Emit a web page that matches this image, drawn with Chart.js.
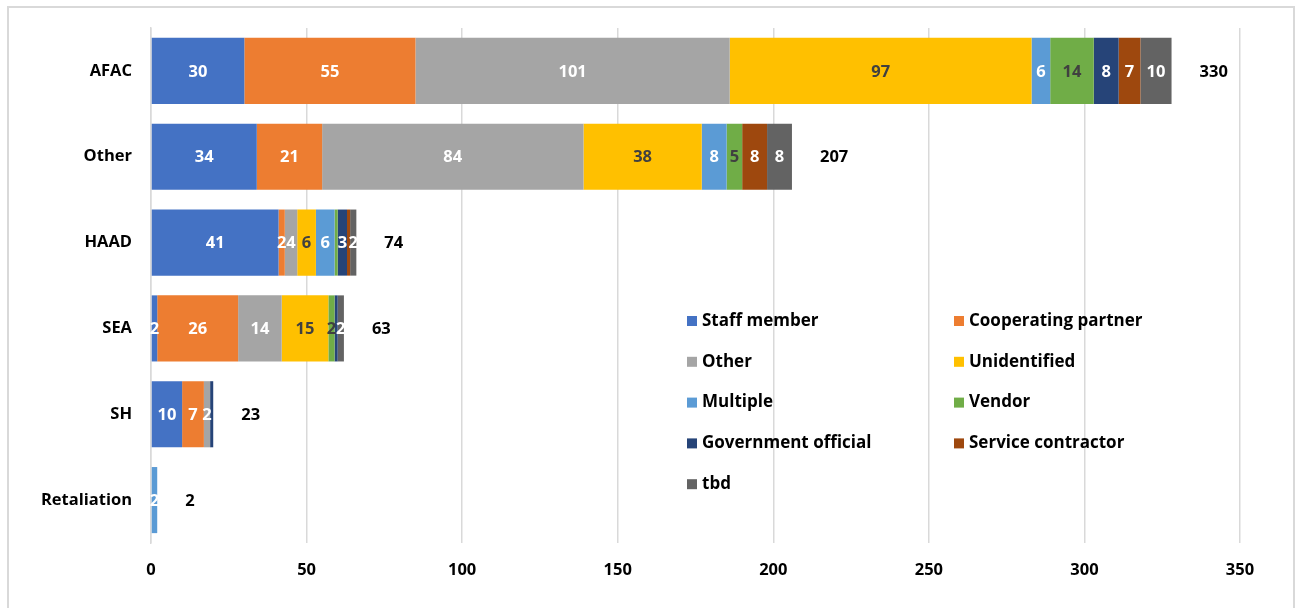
<!DOCTYPE html>
<html>
<head>
<meta charset="utf-8">
<script src="https://cdn.jsdelivr.net/npm/chart.js@4.4.1/dist/chart.umd.min.js"></script>
<style>
	body { margin: 0; background: #fff; }
	#wrap { position: relative; width: 1300px; height: 608px; }
	#frame { position: absolute; left: 7px; top: 6px; width: 1288px; height: 620px; border: 2px solid #d9d9d9; box-sizing: border-box; }
	canvas { position: absolute; left: 0; top: 0; }
</style>
</head>
<body>
<div id="wrap">
	<div id="frame"></div>
	<canvas id="myChart" width="1300" height="608"></canvas>
</div>
<script>
const categories = ['AFAC', 'Other', 'HAAD', 'SEA', 'SH', 'Retaliation'];
const staffMember = [30, 34, 41, 2, 10, 0];
const cooperatingPartner = [55, 21, 2, 26, 7, 0];
const otherSource = [101, 84, 4, 14, 2, 0];
const unidentified = [97, 38, 6, 15, 0, 0];
const multiple = [6, 8, 6, 0, 0, 2];
const vendor = [14, 5, 1, 2, 0, 0];
const governmentOfficial = [8, 0, 3, 1, 1, 0];
const serviceContractor = [7, 8, 1, 0, 0, 0];
const tbd = [10, 8, 2, 2, 0, 0];
const totals = [330, 207, 74, 63, 23, 2];
const xTicks = [0, 50, 100, 150, 200, 250, 300, 350];

const FONT = 'Open Sans';
const darkLabel = '#404040';

const series = [
	{ label: 'Staff member', data: staffMember, color: '#4472C4', text: '#fff' },
	{ label: 'Cooperating partner', data: cooperatingPartner, color: '#ED7D31', text: '#fff' },
	{ label: 'Other', data: otherSource, color: '#A5A5A5', text: '#fff' },
	{ label: 'Unidentified', data: unidentified, color: '#FFC000', text: darkLabel },
	{ label: 'Multiple', data: multiple, color: '#5B9BD5', text: '#fff' },
	{ label: 'Vendor', data: vendor, color: '#70AD47', text: darkLabel },
	{ label: 'Government official', data: governmentOfficial, color: '#264478', text: '#fff' },
	{ label: 'Service contractor', data: serviceContractor, color: '#9E480E', text: '#fff' },
	{ label: 'tbd', data: tbd, color: '#636363', text: '#fff' }
];

// segment values + totals at the end of each bar
const labelPlugin = {
	id: 'barLabels',
	afterDatasetsDraw(chart) {
		const ctx = chart.ctx;
		ctx.save();
		ctx.font = `bold 16.5px "${FONT}"`;
		ctx.textAlign = 'center';
		ctx.textBaseline = 'middle';
		chart.data.datasets.forEach((ds, i) => {
			const meta = chart.getDatasetMeta(i);
			meta.data.forEach((bar, j) => {
				const v = ds.data[j];
				if (v < 2) return;
				ctx.fillStyle = series[i].text;
				ctx.fillText(v, (bar.x + bar.base) / 2, bar.y + 1);
			});
		});
		const xScale = chart.scales.x;
		const yScale = chart.scales.y;
		ctx.fillStyle = '#000';
		ctx.textAlign = 'left';
		totals.forEach((t, j) => {
			let sum = 0;
			series.forEach(s => sum += s.data[j]);
			ctx.fillText(t, xScale.getPixelForValue(sum) + 28, yScale.getPixelForValue(j) + 1);
		});
		ctx.restore();
	}
};

// legend sits inside the plot area in two columns
const legendPlugin = {
	id: 'innerLegend',
	afterDraw(chart) {
		const ctx = chart.ctx;
		ctx.save();
		ctx.font = `bold 17px "${FONT}"`;
		ctx.textBaseline = 'middle';
		ctx.textAlign = 'left';
		chart.data.datasets.forEach((ds, i) => {
			const x = i % 2 === 0 ? 687 : 954;
			const y = 321 + Math.floor(i / 2) * 40.8;
			ctx.fillStyle = ds.backgroundColor;
			ctx.fillRect(x, y - 5, 10, 10);
			ctx.fillStyle = '#000';
			ctx.fillText(ds.label, x + 15, y);
		});
		ctx.restore();
	}
};

const ctx = document.getElementById('myChart');
// eslint-disable-next-line no-unused-vars
const myChart = new Chart(ctx, {
	type: 'bar',
	data: {
		labels: categories,
		datasets: series.map(s => ({
			label: s.label,
			data: s.data,
			backgroundColor: s.color,
			borderWidth: 0,
			categoryPercentage: 1,
			barPercentage: 0.77
		}))
	},
	options: {
		indexAxis: 'y',
		responsive: false,
		animation: false,
		layout: { padding: { top: 28, right: 60, left: 0, bottom: 0 } },
		plugins: {
			legend: { display: false },
			tooltip: { enabled: false }
		},
		scales: {
			x: {
				stacked: true,
				min: 0,
				max: 350,
				afterBuildTicks: (scale) => { scale.ticks = xTicks.map(v => ({ value: v })); },
				afterFit: (scale) => { scale.height = 65; },
				grid: { color: '#d9d9d9', lineWidth: 1.5, drawTicks: false },
				border: { display: false },
				ticks: {
					padding: 17,
					color: '#000',
					font: { family: FONT, size: 16.5, weight: 'bold' }
				}
			},
			y: {
				stacked: true,
				afterFit: (scale) => { scale.width = 151; },
				grid: { display: false },
				border: { display: true, color: '#d9d9d9', width: 1.5 },
				ticks: {
					padding: 11,
					color: '#000',
					font: { family: FONT, size: 16.5, weight: 'bold' }
				}
			}
		}
	},
	plugins: [labelPlugin, legendPlugin]
});
</script>
</body>
</html>
